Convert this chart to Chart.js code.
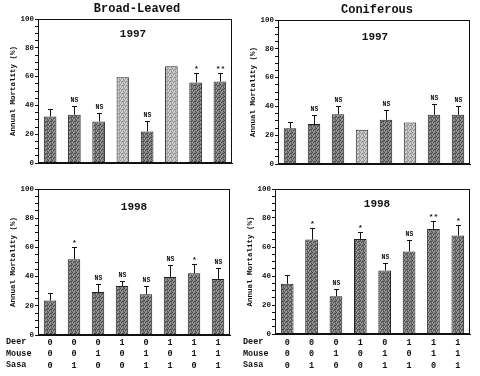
<!DOCTYPE html>
<html>
<head>
<meta charset="utf-8">
<script src="https://cdn.jsdelivr.net/npm/chart.js@4/dist/chart.umd.min.js"></script>
<style>
  body { margin: 0; background: #fff; }
  #wrap { position: relative; width: 480px; height: 376px; overflow: hidden; font-family: "Liberation Mono", "DejaVu Sans Mono", monospace; font-weight: bold; color: #111; }
  canvas { position: absolute; }
  .txt { position: absolute; white-space: nowrap; transform: translate(-50%, -50%); }
  .row { position: absolute; font-size: 8.5px; line-height: 11.7px; }
</style>
</head>
<body>
<div id="wrap">
  <canvas id="tl" width="240" height="180" style="left:0;top:0"></canvas>
  <canvas id="tr" width="240" height="180" style="left:240px;top:0"></canvas>
  <canvas id="bl" width="240" height="196" style="left:0;top:180px"></canvas>
  <canvas id="br" width="240" height="196" style="left:240px;top:180px"></canvas>

  <div class="txt" style="left:137px;top:9px;font-size:12px">Broad-Leaved</div>
  <div class="txt" style="left:377px;top:10px;font-size:12px">Coniferous</div>
  <div class="txt" style="left:133px;top:34px;font-size:11px">1997</div>
  <div class="txt" style="left:375px;top:37px;font-size:11px">1997</div>
  <div class="txt" style="left:134px;top:207px;font-size:11px">1998</div>
  <div class="txt" style="left:377px;top:204px;font-size:11px">1998</div>

  <div class="row" style="left:6px;top:337px">Deer<br>Mouse<br>Sasa</div>
  <div class="row" style="left:243px;top:337px">Deer<br>Mouse<br>Sasa</div>
</div>

<script>
// treatment combinations (one bar each)
var deer  = [0, 0, 0, 1, 0, 1, 1, 1];
var mouse = [0, 0, 1, 0, 1, 0, 1, 1];
var sasa  = [0, 1, 0, 0, 1, 1, 0, 1];

// annual mortality (%), upper error, significance mark
var broad1997    = [32.3, 33.5, 28.9, 59.6, 21.9, 67.2, 55.9, 56.6];
var broad1997Err = [5.1, 5.8, 5.7, null, 7.0, null, 6.9, 6.2];
var broad1997Sig = ['', 'NS', 'NS', '', 'NS', '', '*', '**'];

var conif1997    = [24.9, 27.7, 34.6, 23.8, 30.7, 28.9, 34.2, 34.2];
var conif1997Err = [4.2, 6.0, 6.0, null, 6.9, null, 7.4, 6.2];
var conif1997Sig = ['', 'NS', 'NS', '', 'NS', '', 'NS', 'NS'];

var broad1998    = [23.6, 51.9, 29.5, 33.6, 27.9, 39.8, 42.3, 38.4];
var broad1998Err = [5.5, 8.7, 5.1, 3.7, 5.7, 8.0, 6.4, 7.4];
var broad1998Sig = ['', '*', 'NS', 'NS', 'NS', 'NS', '*', 'NS'];

var conif1998    = [34.6, 65.1, 26.1, 65.6, 43.8, 56.9, 72.5, 67.9];
var conif1998Err = [5.8, 8.1, 4.6, 4.6, 5.5, 8.0, 5.5, 7.6];
var conif1998Sig = ['', '*', 'NS', '*', 'NS', 'NS', '**', '*'];

var yTicks = [0, 20, 40, 60, 80, 100];

var FONT = '"Liberation Mono", "DejaVu Sans Mono", monospace';

// stippled fill like the scanned print
function stipple(base, dark, light) {
    var c = document.createElement('canvas');
    c.width = 4; c.height = 4;
    var g = c.getContext('2d');
    g.fillStyle = base; g.fillRect(0, 0, 4, 4);
    g.fillStyle = dark;
    [[0,0],[2,1],[1,2],[3,3],[3,1]].forEach(function(p){ g.fillRect(p[0], p[1], 1, 1); });
    g.fillStyle = light;
    [[2,3],[0,2],[1,0]].forEach(function(p){ g.fillRect(p[0], p[1], 1, 1); });
    return g.createPattern(c, 'repeat');
}
var darkFill  = stipple('#7e7e7e', '#474747', '#a4a4a4');
var lightFill = stipple('#bdbdbd', '#8e8e8e', '#d8d8d8');

var extras = {
    id: 'extras',
    afterDatasetsDraw: function(chart, args, opts) {
        var ctx = chart.ctx, y = chart.scales.y;
        var meta = chart.getDatasetMeta(0);
        var vals = chart.data.datasets[0].data;
        ctx.save();
        ctx.strokeStyle = '#111';
        ctx.fillStyle = '#111';
        ctx.lineWidth = 1;
        for (let i = 0; i < vals.length; i++) {
            var bx = Math.round(meta.data[i].x) + 0.5;
            var top = y.getPixelForValue(vals[i]);
            if (opts.err[i] != null) {
                var yt = Math.round(y.getPixelForValue(vals[i] + opts.err[i])) + 0.5;
                ctx.beginPath();
                ctx.moveTo(bx, top);
                ctx.lineTo(bx, yt);
                ctx.moveTo(bx - 2.5, yt);
                ctx.lineTo(bx + 2.5, yt);
                ctx.stroke();
                top = yt;
            }
            if (opts.sig[i]) {
                ctx.font = 'bold ' + (opts.sig[i] == 'NS' ? 6.5 : 8) + 'px ' + FONT;
                ctx.textAlign = 'center';
                ctx.textBaseline = 'alphabetic';
                ctx.fillText(opts.sig[i], bx, top - (opts.sig[i] == 'NS' ? 5 : 3));
            }
        }
        var a = chart.chartArea;
        ctx.strokeRect(Math.round(a.left) + 0.5, Math.round(a.top) + 0.5,
            Math.round(a.right - a.left) - 1, Math.round(a.bottom - a.top) - 1);
        ctx.restore();
    }
};

function makePanel(id, values, err, sig, area, withTable) {
    var canvas = document.getElementById(id);
    var W = canvas.width, H = canvas.height;
    var labels = deer.map(function(d, i) { return [String(d), String(mouse[i]), String(sasa[i])]; });
    var colors = err.map(function(e) { return e == null ? lightFill : darkFill; });

    return new Chart(canvas, {
        type: 'bar',
        data: {
            labels: labels,
            datasets: [{
                data: values,
                backgroundColor: colors,
                borderColor: '#222',
                borderWidth: 1,
                barPercentage: 0.52,
                categoryPercentage: 1
            }]
        },
        options: {
            responsive: false,
            animation: false,
            devicePixelRatio: 1,
            layout: {
                autoPadding: false,
                padding: { left: 0, top: area.top, right: W - area.right, bottom: 0 }
            },
            plugins: {
                legend: { display: false },
                tooltip: { enabled: false },
                extras: { err: err, sig: sig }
            },
            scales: {
                x: {
                    grid: { display: false, drawTicks: false, tickLength: 0 },
                    border: { display: true, color: '#111', width: 1 },
                    ticks: {
                        display: withTable,
                        color: '#111',
                        padding: Math.max(0, 342.5 - (area.absTop + area.bottom) - 5.85),
                        maxRotation: 0,
                        font: { family: FONT, weight: 'bold', size: 8.5, lineHeight: '11.7px' }
                    },
                    afterFit: function(s) { s.height = H - area.bottom; }
                },
                y: {
                    min: 0,
                    max: 100,
                    grid: { drawOnChartArea: false, drawTicks: true, tickLength: 3, color: '#111' },
                    border: { display: true, color: '#111', width: 1 },
                    ticks: {
                        stepSize: 5,
                        autoSkip: false,
                        padding: 1,
                        color: '#111',
                        font: { family: FONT, weight: 'bold', size: 7.5 },
                        callback: function(v) { return yTicks.indexOf(v) >= 0 ? v : ''; }
                    },
                    title: {
                        display: true,
                        text: 'Annual Mortality (%)',
                        color: '#111',
                        padding: { top: area.left - 29, bottom: 0 },
                        font: { family: FONT, weight: 'bold', size: 7.5 }
                    },
                    afterFit: function(s) { s.width = area.left; }
                }
            }
        },
        plugins: [extras]
    });
}

makePanel('tl', broad1997, broad1997Err, broad1997Sig, { left: 38, top: 19, right: 232, bottom: 163, absTop: 0 }, false);
makePanel('tr', conif1997, conif1997Err, conif1997Sig, { left: 38, top: 20, right: 230, bottom: 164, absTop: 0 }, false);
makePanel('bl', broad1998, broad1998Err, broad1998Sig, { left: 38, top: 9, right: 230, bottom: 155, absTop: 180 }, true);
makePanel('br', conif1998, conif1998Err, conif1998Sig, { left: 35, top: 9, right: 230, bottom: 154, absTop: 180 }, true);
</script>
</body>
</html>
